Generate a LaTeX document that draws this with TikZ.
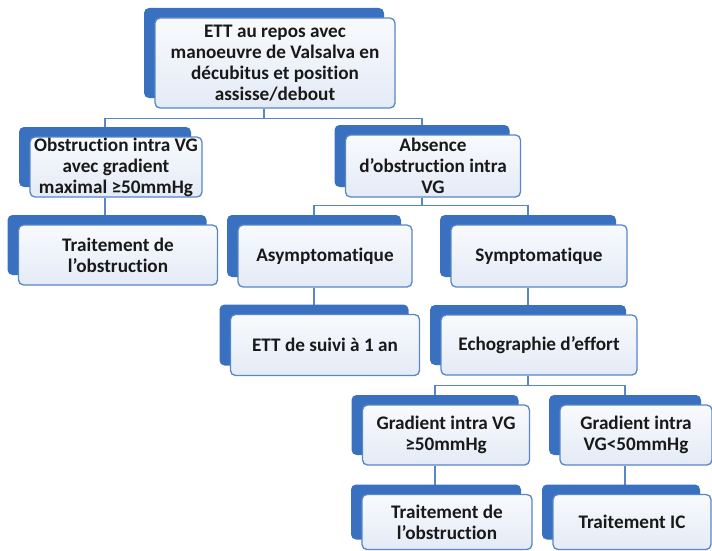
\documentclass[tikz,border=0pt]{standalone}
\usepackage{fontspec}
\setmainfont{Carlito}[Ligatures=NoCommon]
\usetikzlibrary{shadows,backgrounds}
\definecolor{backblue}{RGB}{58,112,192}
\definecolor{lineblue}{RGB}{88,134,200}
\definecolor{boxtop}{RGB}{248,250,253}
\definecolor{boxbot}{RGB}{228,235,246}
\definecolor{txtgray}{RGB}{25,25,25}
\newcommand\cshift{11pt}

\begin{document}
\begin{tikzpicture}[x=1pt, y=-1pt,
    box/.style={rectangle, rounded corners=5pt, draw=lineblue, line width=1.3pt,
        top color=boxtop, bottom color=boxbot, text=txtgray, align=center, inner sep=0pt,
        font=\fontsize{19.2}{21}\selectfont\bfseries,
        general shadow={fill=backblue, draw=none, shadow xshift=-11pt, shadow yshift=10pt}},
    conn/.style={draw=lineblue, line width=1.3pt}]
    \useasboundingbox (0, 0) rectangle (712, 551);

    \node at (275, 63) [box, minimum width=240pt, minimum height=90pt] (root) {ETT au repos avec\\manoeuvre de Valsalva en\\décubitus et position\\assisse/debout};

    %first level
    \node at (116, 167) [box, minimum width=172pt, minimum height=60pt] (obs) {Obstruction intra VG\\avec gradient\\maximal ≥50mmHg};
    \node at (433, 166) [box, minimum width=175pt, minimum height=62pt] (abs) {Absence\\d’obstruction intra\\VG};

    \node at (118, 255) [box, minimum width=199pt, minimum height=60pt] (trt1) {Traitement de\\l’obstruction};

    %asymptomatic / symptomatic
    \node at (325, 256) [box, minimum width=174pt, minimum height=62pt] (asym) {Asymptomatique};
    \node at (539, 256) [box, minimum width=176pt, minimum height=62pt] (sym) {Symptomatique};

    \node at (325, 345) [box, minimum width=189pt, minimum height=61pt] (suivi) {ETT de suivi à 1 an};
    \node at (539, 345) [box, minimum width=196pt, minimum height=60pt] (echo) {Echographie d’effort};

    %stress echo results
    \node at (446, 435) [box, minimum width=167pt, minimum height=60pt] (gr1) {Gradient intra VG\\≥50mmHg};
    \node at (636, 435) [box, minimum width=152pt, minimum height=60pt] (gr2) {Gradient intra\\VG<50mmHg};

    \node at (447, 522) [box, minimum width=170pt, minimum height=55pt] (trt2) {Traitement de\\l’obstruction};
    \node at (632, 522) [box, minimum width=158pt, minimum height=55pt] (trtic) {Traitement IC};

    %connectors behind the boxes
    \begin{scope}[on background layer]
    \draw [conn] ([xshift=-\cshift]root.south) -- ++(0, 10) -| ([xshift=-\cshift]obs.north);
    \draw [conn] ([xshift=-\cshift]root.south) -- ++(0, 10) -| ([xshift=-\cshift]abs.north);
    \draw [conn] ([xshift=-\cshift]obs.south) -- ([xshift=-\cshift]obs.south |- trt1.north);
    \draw [conn] ([xshift=-\cshift]abs.south) -- ++(0, 8) -| ([xshift=-\cshift]asym.north);
    \draw [conn] ([xshift=-\cshift]abs.south) -- ++(0, 8) -| ([xshift=-\cshift]sym.north);
    \draw [conn] ([xshift=-\cshift]asym.south) -- ([xshift=-\cshift]asym.south |- suivi.north);
    \draw [conn] ([xshift=-\cshift]sym.south) -- ([xshift=-\cshift]sym.south |- echo.north);
    \draw [conn] ([xshift=-\cshift]echo.south) -- ++(0, 10) -| ([xshift=-\cshift]gr1.north);
    \draw [conn] ([xshift=-\cshift]echo.south) -- ++(0, 10) -| ([xshift=-\cshift]gr2.north);
    \draw [conn] ([xshift=-\cshift]gr1.south) -- ([xshift=-\cshift]gr1.south |- trt2.north);
    \draw [conn] ([xshift=-\cshift]gr2.south) -- ([xshift=-\cshift]gr2.south |- trtic.north);
    \end{scope}
\end{tikzpicture}
\end{document}
